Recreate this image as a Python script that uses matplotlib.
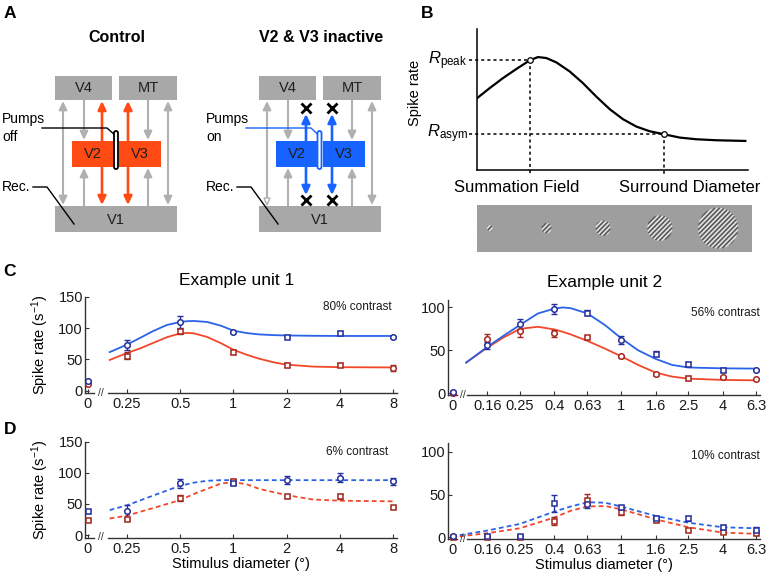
import matplotlib
matplotlib.use("Agg")
import matplotlib.pyplot as plt
import numpy as np
from matplotlib.patches import FancyArrowPatch, FancyBboxPatch, Polygon, Rectangle
from matplotlib.ticker import NullLocator
from matplotlib.transforms import blended_transform_factory

plt.rcParams["font.family"] = ["Liberation Sans", "DejaVu Sans"]
plt.rcParams["mathtext.fontset"] = "custom"
plt.rcParams["mathtext.rm"] = "Liberation Sans"
plt.rcParams["mathtext.it"] = "Liberation Sans:italic"
plt.rcParams["mathtext.bf"] = "Liberation Sans:bold"

W, H = 767, 572

# ---- data ----
UNIT1_DIAM = [0, 0.25, 0.5, 1, 2, 4, 8]
UNIT1_LABELS = ["0", "0.25", "0.5", "1", "2", "4", "8"]
UNIT2_DIAM = [0, 0.16, 0.25, 0.4, 0.63, 1, 1.6, 2.5, 4, 6.3]
UNIT2_LABELS = ["0", "0.16", "0.25", "0.4", "0.63", "1", "1.6", "2.5", "4", "6.3"]

# C, unit 1, 80% contrast
C1_CTRL = [15, 72.5, 110, 94, 86, 93, 86]
C1_CTRL_ERR = [2, 8, 9, 2, 2, 3, 2]
C1_CTRL_MARK = "oooosso"
C1_INACT = [11, 56, 95, 62, 41, 41.6, 36]
C1_INACT_ERR = [1, 5, 4, 3, 3, 2, 5]
C1_INACT_MARK = "ossssso"
FIT1_D = [0.2, 0.25, 0.3, 0.35, 0.42, 0.5, 0.55, 0.6, 0.71, 0.85, 1, 1.2, 1.4, 1.7, 2, 2.8, 4, 8]
FIT1_CTRL = [61.6, 73.5, 85, 95, 105, 110, 111.2, 111.5, 110, 104, 96, 92, 90, 88.8, 88.3,
             87.8, 87.5, 87.5]
FIT1_INACT = [49, 60, 68, 76, 85.4, 91.6, 92.4, 91.6, 86, 76, 65.4, 57, 51, 45, 41.5,
              38.4, 37.4, 37]

# C, unit 2, 56% contrast
C2_CTRL = [1, 56, 81, 98, 94, 62, 46, 34, 27, 27]
C2_CTRL_ERR = [1, 4, 6, 6, 3, 5, 3, 2, 2, 1]
C2_CTRL_MARK = "oooosossso"
C2_INACT = [0.5, 63, 72, 70, 65, 43, 22, 17.5, 18.6, 16]
C2_INACT_ERR = [1, 6, 7, 4, 2, 2, 2, 2, 1, 1]
C2_INACT_MARK = "oooosoosoo"
FIT2_D = [0.12, 0.16, 0.2, 0.25, 0.32, 0.4, 0.45, 0.5, 0.63, 0.8, 1, 1.26, 1.6, 2, 2.5, 4, 6.3]
FIT2_CTRL = [35.7, 54, 67, 79.5, 93, 98.6, 100, 99.2, 93, 79.5, 64, 50, 40, 33, 30, 29, 28.7]
FIT2_INACT = [35.7, 53, 65, 75, 77.5, 74.4, 71.6, 68.6, 61, 52, 43, 33, 24, 19.4, 17, 15.5, 15]

# D, unit 1, 6% contrast
D1_CTRL = [38, 38, 83, 84, 88, 92, 86]
D1_CTRL_ERR = [2, 10, 7, 3, 6, 7, 5]
D1_CTRL_MARK = "soosooo"
D1_INACT = [24, 26, 59, 86, 62, 62, 45]
D1_INACT_ERR = [1, 2, 5, 4, 2, 4, 2]
D1_INACT_MARK = "sssssss"
FIT3_D = [0.2, 0.25, 0.35, 0.5, 0.6, 0.71, 0.85, 1, 1.2, 1.4, 2, 2.8, 4, 8]
FIT3_CTRL = [40, 47.6, 63, 79, 84, 87, 88, 88, 88, 88, 88, 88, 88, 88]
FIT3_INACT = [26.5, 31, 43, 56, 66, 74, 82.5, 85, 81, 74, 64, 57, 55, 54]

# D, unit 2, 10% contrast
D2_CTRL = [1, 1, 1.5, 40, 38.5, 35, 23, 22, 12.5, 9]
D2_CTRL_ERR = [1, 1, 1, 10, 4, 2, 2, 3, 2, 3]
D2_CTRL_MARK = "osssosssss"
D2_INACT = [0.5, 0.5, 0.5, 19, 44, 29, 20, 9, 6.5, 4.7]
D2_INACT_ERR = [1, 1, 1, 5, 7, 3, 2, 2, 2, 2]
D2_INACT_MARK = "ssssssssss"
FIT4_D = [0.11, 0.16, 0.25, 0.4, 0.5, 0.63, 0.8, 1, 1.26, 1.6, 2.5, 4, 6.3]
FIT4_CTRL = [2.5, 7.8, 15.6, 30, 36, 41, 40.5, 36, 30.5, 25, 17, 11.7, 10.5]
FIT4_INACT = [1, 4.7, 10.5, 23, 31, 36, 36.6, 32.7, 27, 21, 11.7, 5.4, 4]

# B, schematic size-tuning curve (arbitrary units)
B_X = [0, 0.47, 0.96, 1.45, 1.94, 2.25, 2.56, 2.93, 3.42, 3.91, 4.40, 4.90,
       5.39, 5.88, 6.37, 6.89, 7.48, 8.09, 8.83, 9.9]
B_Y = [5.09, 5.81, 6.52, 7.16, 7.77, 8.01, 7.94, 7.63, 6.99, 6.16, 5.21, 4.31,
       3.60, 3.08, 2.75, 2.54, 2.30, 2.18, 2.11, 2.06]
B_PEAK = 4
B_ASYM = 15

# ---- styles ----
BLUE_LINE = "#2a62e8"
BLUE_MARK = "#25309c"
RED_LINE = "#f2472a"
RED_MARK = "#a3281e"
AXIS = "#333333"
BOX_GRAY = "#a8a8a8"
ARROW_GRAY = "#b0b0b0"
A_RED = "#ff4a14"
A_BLUE = "#1763ff"


def rect(left, top, right, bottom):
    return [left / W, 1 - bottom / H, (right - left) / W, (bottom - top) / H]


def tuning_axes(fig, box, base, xlim, ylim, yticks, zero, diam, labels, breaks):
    ax = fig.add_axes(rect(*box))
    ax.set_xscale("log", base=base)
    ax.set_xlim(xlim)
    ax.set_ylim(ylim)
    positions = [zero if d == 0 else d for d in diam]
    ax.set_xticks(positions, labels)
    ax.xaxis.set_minor_locator(NullLocator())
    ax.set_yticks(yticks)
    ax.patch.set_alpha(0)
    for side in ("top", "right", "bottom"):
        ax.spines[side].set_visible(False)
    ax.spines["left"].set_color(AXIS)
    ax.spines["left"].set_linewidth(1.0)
    ax.tick_params(direction="in", length=3, width=0.8, color=AXIS,
                   labelsize=10.5, labelcolor="#1a1a1a")
    ax.tick_params(axis="y", pad=1.5)
    ax.tick_params(axis="x", pad=3)
    # broken x axis
    seg1_end, brk, seg2_start = breaks
    trans = blended_transform_factory(ax.transData, ax.transAxes)
    ax.plot([xlim[0], seg1_end], [0, 0], transform=trans, color=AXIS, lw=1.0, clip_on=False)
    ax.plot([seg2_start, xlim[1]], [0, 0], transform=trans, color=AXIS, lw=1.0, clip_on=False)
    ax.text(brk, 0, "//", transform=trans, ha="center", va="center", fontsize=7.5, color=AXIS)
    return ax, positions


def plot_condition(ax, positions, values, errors, markers, color):
    ax.errorbar(positions, values, yerr=errors, fmt="none", ecolor=color,
                elinewidth=1.0, capsize=2, capthick=1.0, zorder=3, clip_on=False)
    for m in sorted(set(markers)):
        idx = [i for i, c in enumerate(markers) if c == m]
        ax.plot([positions[i] for i in idx], [values[i] for i in idx], linestyle="none",
                marker=m, ms=4.0 if m == "o" else 3.6, mfc="white", mec=color, mew=1.1,
                zorder=4, clip_on=False)


def plot_fit(ax, d, y, color, dashed):
    ls = (0, (2.6, 1.8)) if dashed else "-"
    ax.plot(d, y, color=color, lw=1.3, ls=ls, zorder=2)


fig = plt.figure(figsize=(W / 100, H / 100), dpi=100)

# full-figure canvas in pixel coordinates for the schematics and labels
canvas = fig.add_axes([0, 0, 1, 1])
canvas.set_xlim(0, W)
canvas.set_ylim(H, 0)
canvas.axis("off")

for letter, x, y in [("A", 10, 13), ("B", 427, 13), ("C", 9, 272), ("D", 10, 430)]:
    canvas.text(x, y, letter, fontsize=12.5, fontweight="bold", ha="center", va="center")

# ---- panel A ----
BOXES = [("V4", 55, 76, 112, 100), ("MT", 119, 76, 177, 100), ("V2", 72, 141, 113, 167),
         ("V3", 119, 141, 161, 167), ("V1", 55, 206, 177, 232)]


def arrow(ax, x, y0, y1, color, style="-|>", lw=1.5):
    ax.add_patch(FancyArrowPatch((x, y0), (x, y1),
                                 arrowstyle=f"{style},head_length=0.5,head_width=0.24",
                                 mutation_scale=10, color=color, lw=lw,
                                 shrinkA=0, shrinkB=0, zorder=2))


def draw_circuit(ax, dx, color, title, pump_text, inactive):
    ax.text(117 + dx, 38, title, fontsize=11.5, fontweight="bold", ha="center", va="center")
    for name, x0, y0, x1, y1 in BOXES:
        fc = color if name in ("V2", "V3") else BOX_GRAY
        ax.add_patch(Rectangle((x0 + dx, y0), x1 - x0, y1 - y0, fc=fc, ec="none", zorder=3))
        ax.text((x0 + x1) / 2 + dx, (y0 + y1) / 2 + 0.5, name, fontsize=10.5,
                ha="center", va="center", color="#1e1e1e", zorder=4)
    # outer long-range connections
    if inactive:
        arrow(ax, 63 + dx, 199, 101, ARROW_GRAY)
        ax.add_patch(Polygon([(63 + dx - 3, 198), (63 + dx + 3, 198), (63 + dx, 205)],
                             closed=True, fc="white", ec=ARROW_GRAY, lw=1.0, zorder=2))
    else:
        arrow(ax, 63 + dx, 101, 205, ARROW_GRAY, "<|-|>")
    arrow(ax, 168 + dx, 101, 205, ARROW_GRAY, "<|-|>")
    for x in (84, 148):
        arrow(ax, x + dx, 100, 140, ARROW_GRAY)
        arrow(ax, x + dx, 206, 168, ARROW_GRAY)
    for x in (102, 128):
        if inactive:
            arrow(ax, x + dx, 141, 114, color, lw=1.9)
            arrow(ax, x + dx, 167, 195, color, lw=1.9)
            ax.plot([x + dx, x + dx], [108, 200], linestyle="none", marker="x",
                    ms=6.5, mew=2.0, color="black", zorder=5)
        else:
            arrow(ax, x + dx, 101, 205, color, "<|-|>", lw=1.9)
    # pump cannula
    pump_color = color if inactive else "black"
    px = 116 + dx if not inactive else 115.5 + dx
    ax.add_patch(FancyBboxPatch((px - 2, 131), 4, 38, boxstyle="round,pad=0,rounding_size=2",
                                fc="white", ec=pump_color, lw=1.3, zorder=6))
    ax.plot([42 + dx, 107 + dx, px], [128, 128, 136], color=pump_color, lw=1.0, zorder=5)
    ax.text(2 + dx, 119, "Pumps", fontsize=10, ha="left", va="center")
    ax.text(2 + dx, 137, pump_text, fontsize=10, ha="left", va="center")
    # recording site
    ax.text(2 + dx, 187, "Rec.", fontsize=10, ha="left", va="center")
    ax.plot([33 + dx, 47 + dx, 74 + dx], [187, 187, 224], color="black", lw=1.0, zorder=5)


draw_circuit(canvas, 0, A_RED, "Control", "off", False)
draw_circuit(canvas, 204, A_BLUE, "V2 & V3 inactive", "on", True)

# ---- panel B ----
axb = fig.add_axes(rect(477, 29, 748, 170))
axb.set_xlim(0, 10)
axb.set_ylim(0, 10)
axb.patch.set_alpha(0)
for side in ("top", "right"):
    axb.spines[side].set_visible(False)
for side in ("left", "bottom"):
    axb.spines[side].set_linewidth(1.1)
axb.set_xticks([])
axb.set_yticks([])
axb.plot(B_X, B_Y, color="black", lw=1.6, zorder=3)
for idx, label in [(B_PEAK, r"$R_{\mathrm{peak}}$"), (B_ASYM, r"$R_{\mathrm{asym}}$")]:
    bx, by = B_X[idx], B_Y[idx]
    axb.plot([-0.3, bx], [by, by], color="black", lw=1.1, ls=(0, (2, 2)), clip_on=False)
    axb.plot([bx, bx], [by, -0.45], color="black", lw=1.1, ls=(0, (2, 2)), clip_on=False)
    axb.plot(bx, by, marker="o", ms=4, mfc="white", mec="black", mew=0.9, zorder=4)
    axb.text(-0.35, by, label, fontsize=12, ha="right", va="center")
canvas.text(415, 93, "Spike rate", fontsize=10.5, rotation=90, ha="center", va="center")
canvas.text(517, 188, "Summation Field", fontsize=12, ha="center", va="center")
canvas.text(690, 188, "Surround Diameter", fontsize=12, ha="center", va="center")

# grating stimuli strip
GRATING_CX = [12.7, 69.3, 126, 182.7, 241]
GRATING_R = [3, 5, 7.5, 12.5, 20]
strip_w, strip_h, ss = 275, 47, 4
rows, cols = np.mgrid[0:strip_h * ss, 0:strip_w * ss] / ss
img = np.full(rows.shape, 0.62)
wave = 0.62 + 0.38 * np.sin(2 * np.pi * (cols + rows) / (np.sqrt(2) * 3.3))
for cx, r in zip(GRATING_CX, GRATING_R):
    inside = np.hypot(cols - cx, rows - strip_h / 2) <= r
    img[inside] = wave[inside]
axg = fig.add_axes(rect(477, 205, 752, 252))
axg.imshow(img, cmap="gray", vmin=0, vmax=1, aspect="auto", interpolation="antialiased")
axg.axis("off")

# ---- panels C and D ----
canvas.text(237, 281, "Example unit 1", fontsize=12.5, ha="center", va="center")
canvas.text(605, 283, "Example unit 2", fontsize=12.5, ha="center", va="center")

LEFT_BREAK = (0.163, 0.178, 0.195)
RIGHT_BREAK = (0.106, 0.114, 0.121)

panels = [
    ((85, 297, 397, 393), 2, (0.145, 8.42), (-4, 150), [0, 50, 100, 150], 0.15,
     UNIT1_DIAM, UNIT1_LABELS, LEFT_BREAK,
     (C1_CTRL, C1_CTRL_ERR, C1_CTRL_MARK, C1_INACT, C1_INACT_ERR, C1_INACT_MARK),
     (FIT1_D, FIT1_CTRL, FIT1_INACT), False, "80% contrast", (392, 307), True, False),
    ((447.5, 300, 760, 394.5), 10, (0.093, 6.66), (-1.5, 108.7), [0, 50, 100], 0.1,
     UNIT2_DIAM, UNIT2_LABELS, RIGHT_BREAK,
     (C2_CTRL, C2_CTRL_ERR, C2_CTRL_MARK, C2_INACT, C2_INACT_ERR, C2_INACT_MARK),
     (FIT2_D, FIT2_CTRL, FIT2_INACT), False, "56% contrast", (760, 313), False, False),
    ((85, 441.5, 397, 537.5), 2, (0.145, 8.42), (-4, 150), [0, 50, 100, 150], 0.15,
     UNIT1_DIAM, UNIT1_LABELS, LEFT_BREAK,
     (D1_CTRL, D1_CTRL_ERR, D1_CTRL_MARK, D1_INACT, D1_INACT_ERR, D1_INACT_MARK),
     (FIT3_D, FIT3_CTRL, FIT3_INACT), True, "6% contrast", (388, 452), True, True),
    ((447.5, 443, 760, 538.5), 10, (0.093, 6.66), (-1.5, 110.5), [0, 50, 100], 0.1,
     UNIT2_DIAM, UNIT2_LABELS, RIGHT_BREAK,
     (D2_CTRL, D2_CTRL_ERR, D2_CTRL_MARK, D2_INACT, D2_INACT_ERR, D2_INACT_MARK),
     (FIT4_D, FIT4_CTRL, FIT4_INACT), True, "10% contrast", (760, 456), False, True),
]

for (box, base, xlim, ylim, yticks, zero, diam, labels, breaks, pts, fit,
     dashed, contrast, cpos, ylab, xlab) in panels:
    ax, pos = tuning_axes(fig, box, base, xlim, ylim, yticks, zero, diam, labels, breaks)
    ctrl, ctrl_err, ctrl_mark, inact, inact_err, inact_mark = pts
    plot_fit(ax, fit[0], fit[2], RED_LINE, dashed)
    plot_fit(ax, fit[0], fit[1], BLUE_LINE, dashed)
    plot_condition(ax, pos, inact, inact_err, inact_mark, RED_MARK)
    plot_condition(ax, pos, ctrl, ctrl_err, ctrl_mark, BLUE_MARK)
    canvas.text(cpos[0], cpos[1], contrast, fontsize=8.5, ha="right", va="center",
                color="#1a1a1a")
    if ylab:
        ax.set_ylabel("Spike rate (s$^{-1}$)", fontsize=10.5)
        ax.yaxis.set_label_coords(-0.109, 0.5)
    if xlab:
        ax.set_xlabel("Stimulus diameter (\u00b0)", fontsize=10.5)
        ax.xaxis.set_label_coords(0.5, -0.2)

fig.savefig("out.png", dpi=100)
